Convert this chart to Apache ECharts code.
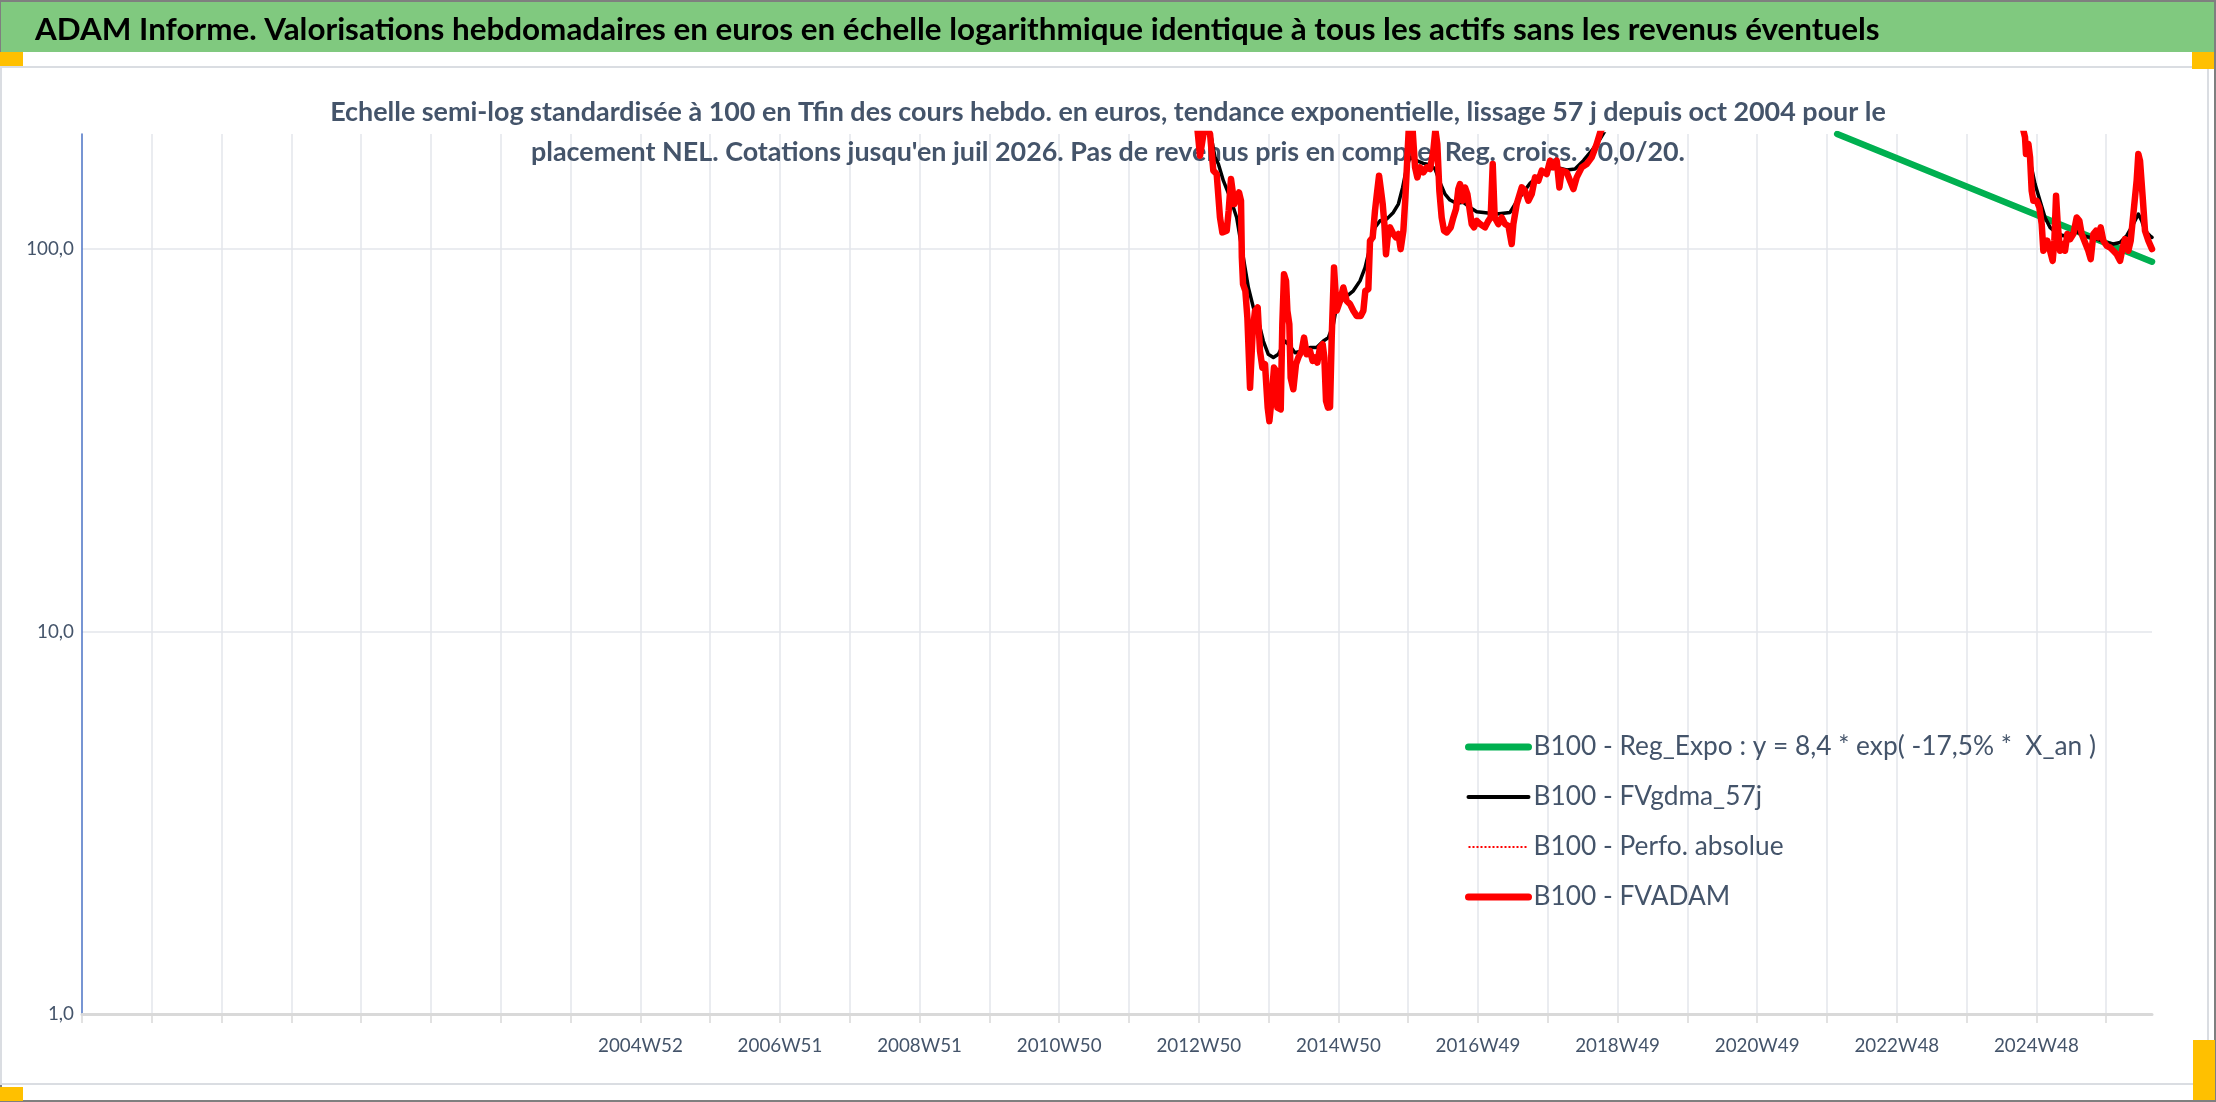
<!DOCTYPE html>
<html>
<head>
<meta charset="utf-8">
<title>ADAM Informe - NEL</title>
<script src="https://cdn.jsdelivr.net/npm/echarts@6/dist/echarts.min.js"></script>
<style>
    html, body { margin: 0; padding: 0; background: #ffffff; }
    #chart { width: 2216px; height: 1102px; }
</style>
</head>
<body>
<div id="chart"></div>
<script>
// axe des x en annees decimales, un trait tous les 52 semaines
var X_MIN = 1997.0;
var X_MAX = 2026.555;
var X_STEP = 364 / 365.25;

var xTickLabels = ['', '', '', '', '', '', '', '', '2004W52', '', '2006W51', '', '2008W51', '', '2010W50', '',
    '2012W50', '', '2014W50', '', '2016W49', '', '2018W49', '', '2020W49', '', '2022W48', '', '2024W48', ''];

var seriesNames = [
    'B100 - Reg_Expo : y = 8,4 * exp( -17,5% *  X_an )',
    'B100 - FVgdma_57j',
    'B100 - Perfo. absolue',
    'B100 - FVADAM'
];

// tendance exponentielle (droite en semi-log)
var regExpo = [[2022.06, 200], [2026.555, 92.7]];

// moyenne mobile 57 j
var fvGdma = [
    [2012.90, 260], [2013.106, 204], [2013.177, 173.8], [2013.225, 166.9], [2013.296, 151.0], [2013.391, 136.6],
    [2013.486, 121.0], [2013.558, 101.0], [2013.605, 89.5], [2013.653, 79.4], [2013.724, 70.4], [2013.796, 64.9],
    [2013.867, 57.5], [2013.938, 53.1], [2014.010, 52.1], [2014.081, 53.1], [2014.176, 57.5], [2014.248, 55.8],
    [2014.319, 53.6], [2014.414, 54.2], [2014.533, 55.3], [2014.628, 55.3], [2014.724, 57.5], [2014.795, 58.7],
    [2014.867, 63.6], [2014.914, 71.1], [2015.033, 74.7], [2015.152, 77.8], [2015.247, 82.6], [2015.319, 89.5],
    [2015.390, 101.0], [2015.461, 114.0], [2015.533, 118.6], [2015.628, 119.8], [2015.723, 124.7], [2015.795, 131.2],
    [2015.856, 145.0], [2015.914, 163.6], [2015.961, 173.8], [2016.056, 170.3], [2016.151, 167.6], [2016.247, 166.3],
    [2016.318, 162.0], [2016.389, 149.5], [2016.461, 139.3], [2016.532, 134.4], [2016.627, 131.7], [2016.723, 132.5],
    [2016.818, 128.5], [2016.913, 125.2], [2017.008, 124.7], [2017.199, 123.5], [2017.389, 124.7], [2017.485, 133.3],
    [2017.580, 140.7], [2017.675, 148.6], [2017.794, 155.6], [2017.913, 161.4], [2018.056, 163.6], [2018.198, 161.0],
    [2018.317, 162.0], [2018.436, 170.3], [2018.555, 180.9], [2018.674, 194.1], [2018.746, 204],
    [2019.5, 290], [2020.5, 380], [2021.4, 480], [2022.4, 400], [2023.4, 320], [2024.3, 250],
    [2024.718, 208], [2024.756, 192.1], [2024.814, 170.3], [2024.885, 148.0], [2024.956, 133.8], [2025.028, 121.0],
    [2025.099, 114.0], [2025.194, 109.9], [2025.289, 108.4], [2025.385, 109.5], [2025.480, 111.2], [2025.575, 108.4],
    [2025.670, 107.3], [2025.766, 106.2], [2025.908, 104.1], [2026.003, 103.1], [2026.099, 104.1], [2026.194, 108.4],
    [2026.289, 116.3], [2026.360, 123.5], [2026.408, 118.6], [2026.455, 111.7], [2026.527, 108.4], [2026.555, 107.3]
];

// perfo absolue : rien de visible
var perfoAbsolue = [];

// cours hebdo base 100
var fvAdam = [
    [2012.90, 230], [2012.963, 175.5], [2013.034, 212], [2013.106, 200], [2013.153, 160.4], [2013.201, 157.2],
    [2013.248, 121.0], [2013.282, 110.6], [2013.344, 111.7], [2013.372, 126.0], [2013.405, 152.5], [2013.453, 131.2],
    [2013.520, 140.7], [2013.548, 133.8], [2013.560, 95.1], [2013.577, 81.0], [2013.610, 77.8], [2013.639, 66.2],
    [2013.677, 43.4], [2013.715, 61.1], [2013.748, 69.0], [2013.786, 70.4], [2013.819, 54.2], [2013.853, 49.0],
    [2013.891, 50.0], [2013.929, 38.5], [2013.953, 35.5], [2013.986, 40.9], [2014.019, 49.0], [2014.048, 48.0],
    [2014.067, 38.5], [2014.115, 38.1], [2014.138, 63.6], [2014.162, 86.0], [2014.191, 82.6], [2014.210, 69.0],
    [2014.238, 63.6], [2014.257, 46.1], [2014.295, 43.0], [2014.333, 50.0], [2014.367, 52.1], [2014.414, 54.2],
    [2014.448, 58.7], [2014.486, 53.1], [2014.533, 54.2], [2014.571, 51.0], [2014.605, 52.1], [2014.638, 50.5],
    [2014.676, 55.3], [2014.714, 56.4], [2014.738, 52.1], [2014.762, 40.1], [2014.790, 38.5], [2014.819, 38.6],
    [2014.843, 58.7], [2014.876, 89.5], [2014.914, 69.0], [2014.962, 73.2], [2015.009, 79.4], [2015.057, 73.2],
    [2015.105, 71.8], [2015.152, 69.0], [2015.200, 66.9], [2015.257, 66.9], [2015.295, 69.0], [2015.323, 77.8],
    [2015.366, 78.6], [2015.390, 105.2], [2015.428, 107.3], [2015.461, 126.0], [2015.485, 137.9], [2015.519, 155.6],
    [2015.547, 142.2], [2015.571, 131.2], [2015.595, 116.3], [2015.618, 97.0], [2015.642, 107.3], [2015.676, 114.0],
    [2015.723, 109.5], [2015.761, 107.3], [2015.795, 109.5], [2015.828, 100.0], [2015.866, 111.7], [2015.895, 136.6],
    [2015.923, 173.8], [2015.942, 204], [2015.999, 204], [2016.033, 163.6], [2016.066, 154.0], [2016.104, 163.6],
    [2016.151, 158.8], [2016.199, 163.6], [2016.247, 162.0], [2016.294, 180.9], [2016.323, 205], [2016.351, 188.3],
    [2016.380, 142.2], [2016.413, 121.0], [2016.447, 111.7], [2016.485, 110.6], [2016.542, 114.0], [2016.580, 121.0],
    [2016.618, 127.3], [2016.651, 143.6], [2016.675, 148.0], [2016.713, 133.8], [2016.746, 145.0], [2016.780, 139.3],
    [2016.808, 128.5], [2016.842, 116.3], [2016.875, 114.0], [2016.913, 118.6], [2016.961, 116.3], [2017.032, 114.0],
    [2017.080, 118.6], [2017.113, 121.0], [2017.142, 166.9], [2017.170, 121.0], [2017.223, 116.3], [2017.270, 121.0],
    [2017.318, 116.3], [2017.366, 115.1], [2017.413, 103.1], [2017.437, 116.3], [2017.485, 131.2], [2017.556, 145.0],
    [2017.603, 142.2], [2017.651, 133.8], [2017.699, 139.3], [2017.746, 154.0], [2017.794, 151.0], [2017.841, 160.4],
    [2017.913, 157.2], [2017.960, 170.3], [2018.008, 163.6], [2018.056, 170.3], [2018.094, 145.0], [2018.127, 160.4],
    [2018.198, 158.8], [2018.246, 151.0], [2018.294, 143.6], [2018.341, 154.0], [2018.413, 163.6], [2018.484, 166.9],
    [2018.555, 173.8], [2018.627, 188.3], [2018.684, 204],
    [2019.3, 280], [2020.2, 360], [2021.0, 520], [2021.9, 430], [2022.8, 340], [2023.8, 290], [2024.5, 260],
    [2024.709, 208], [2024.742, 196.0], [2024.756, 177.3], [2024.790, 188.3], [2024.814, 173.8], [2024.837, 142.2],
    [2024.861, 133.8], [2024.909, 133.8], [2024.947, 128.5], [2024.980, 116.3], [2025.004, 99.0], [2025.028, 101.0],
    [2025.061, 105.2], [2025.099, 99.0], [2025.137, 93.2], [2025.161, 105.2], [2025.185, 137.9], [2025.209, 116.3],
    [2025.242, 99.0], [2025.289, 103.1], [2025.313, 99.0], [2025.347, 109.5], [2025.385, 106.2], [2025.432, 109.5],
    [2025.480, 121.0], [2025.518, 118.6], [2025.551, 109.5], [2025.599, 104.1], [2025.646, 99.0], [2025.680, 94.1],
    [2025.718, 109.5], [2025.756, 111.7], [2025.789, 107.3], [2025.822, 114.0], [2025.860, 105.2], [2025.908, 102.0],
    [2025.956, 101.0], [2026.003, 99.0], [2026.051, 97.0], [2026.099, 93.2], [2026.137, 101.0], [2026.170, 106.2],
    [2026.217, 99.0], [2026.251, 105.2], [2026.298, 128.5], [2026.336, 151.0], [2026.360, 177.3], [2026.384, 170.3],
    [2026.422, 136.6], [2026.455, 111.7], [2026.503, 105.2], [2026.555, 100.0]
];

var mainTitle = 'ADAM Informe. Valorisations hebdomadaires en euros en échelle logarithmique identique à tous les actifs sans les revenus éventuels';
var subTitle1 = 'Echelle semi-log standardisée à 100 en Tfin des cours hebdo. en euros, tendance exponentielle, lissage 57 j depuis oct 2004 pour le';
var subTitle2 = "placement NEL. Cotations jusqu'en juil 2026. Pas de revenus pris en compte. Reg. croiss. : 0,0/20.";
</script>
<script>
var FONT = "Lato, 'Noto Sans', sans-serif";

// taille de police pour qu'un texte fasse la largeur voulue
function fitSize(text, weight, target) {
    var ctx = document.createElement('canvas').getContext('2d');
    ctx.font = weight + ' 100px ' + FONT;
    return Math.round(100 * target / ctx.measureText(text).width * 10) / 10;
}

var titleSize = fitSize(mainTitle, 'bold', 1843);
var subSize = fitSize(subTitle1, 'bold', 1556);
var legendSize = fitSize(seriesNames[0], 'normal', 563);
var axisSize = fitSize('2004W52', 'normal', 85);

var myChart = echarts.init(document.getElementById('chart'));

var option = {
    backgroundColor: '#ffffff',
    animation: false,
    graphic: [
        // bordure ecran
        { type: 'rect', z: -10, shape: { x: 1, y: 1, width: 2214, height: 1100 }, style: { fill: '#ffffff', stroke: '#7f7f7f', lineWidth: 2 } },
        // bandeau vert
        { type: 'rect', z: -9, shape: { x: 1, y: 2, width: 2213, height: 50 }, style: { fill: '#80c97f' } },
        // cadre du graphique
        { type: 'rect', z: -9, shape: { x: 1, y: 67, width: 2207, height: 1017 }, style: { fill: '#ffffff', stroke: '#dadde2', lineWidth: 2 } },
        // poignees jaunes
        { type: 'rect', z: -8, shape: { x: 0, y: 52, width: 23, height: 14 }, style: { fill: '#ffc000' } },
        { type: 'rect', z: -8, shape: { x: 2192, y: 52, width: 22, height: 17 }, style: { fill: '#ffc000' } },
        { type: 'rect', z: -8, shape: { x: 2193, y: 1040, width: 22, height: 60 }, style: { fill: '#ffc000' } },
        { type: 'rect', z: -8, shape: { x: 0, y: 1087, width: 23, height: 14 }, style: { fill: '#ffc000' } }
    ],
    title: [{
        text: mainTitle,
        left: 35,
        top: 11,
        padding: 0,
        textStyle: { color: '#000000', fontSize: titleSize, fontWeight: 'bold', fontFamily: FONT, lineHeight: 38 }
    }, {
        text: subTitle1 + '\n' + subTitle2,
        left: 'center',
        top: 92,
        padding: 0,
        z: 1,
        textStyle: { color: '#44546a', fontSize: subSize, fontWeight: 'bold', fontFamily: FONT, lineHeight: 40 }
    }],
    legend: {
        orient: 'vertical',
        left: 1465,
        top: 732,
        padding: 0,
        itemWidth: 60,
        itemHeight: 14,
        itemGap: 20,
        selectedMode: false,
        itemStyle: { opacity: 0, borderWidth: 0 },
        textStyle: { color: '#44546a', fontSize: legendSize, fontFamily: FONT, lineHeight: 30 },
        data: [
            { name: seriesNames[0], lineStyle: { width: 7, cap: 'round' } },
            { name: seriesNames[1], lineStyle: { width: 4, cap: 'round' } },
            { name: seriesNames[2], lineStyle: { width: 2 } },
            { name: seriesNames[3], lineStyle: { width: 7, cap: 'round' } }
        ]
    },
    grid: {
        left: 82,
        right: 64,
        top: 134,
        bottom: 88,
        containLabel: false
    },
    xAxis: {
        type: 'value',
        min: X_MIN,
        max: X_MAX,
        interval: X_STEP,
        axisLine: { show: true, onZero: false, lineStyle: { color: '#d9d9d9', width: 3 } },
        axisTick: { show: true, length: 9, lineStyle: { color: '#d9d9d9', width: 1.5 } },
        splitLine: { show: true, showMinLine: false, showMaxLine: false, lineStyle: { color: '#e3e6eb', width: 1.5 } },
        axisLabel: {
            showMaxLabel: false,
            margin: 22,
            color: '#44546a',
            fontSize: axisSize,
            fontFamily: FONT,
            formatter: function (v) {
                var i = Math.round((v - X_MIN) / X_STEP);
                return xTickLabels[i] || '';
            }
        }
    },
    yAxis: {
        type: 'log',
        logBase: 10,
        min: 1,
        max: 200,
        axisLine: { show: true, lineStyle: { color: '#4a72c4', width: 1.5 } },
        axisTick: { show: false },
        splitLine: { show: true, showMinLine: false, showMaxLine: false, lineStyle: { color: '#e3e6eb', width: 1.5 } },
        axisLabel: {
            showMaxLabel: false,
            margin: 8,
            color: '#44546a',
            fontSize: axisSize,
            fontFamily: FONT,
            formatter: function (v) {
                return Number(v).toFixed(1).replace('.', ',');
            }
        }
    },
    series: [{
        name: seriesNames[0],
        type: 'line',
        data: regExpo,
        symbol: 'none',
        clip: true,
        lineStyle: { color: '#00b050', width: 6.5, cap: 'round' },
        itemStyle: { color: '#00b050' }
    }, {
        name: seriesNames[1],
        type: 'line',
        data: fvGdma,
        symbol: 'none',
        clip: true,
        lineStyle: { color: '#000000', width: 3.5, cap: 'round', join: 'round' },
        itemStyle: { color: '#000000' }
    }, {
        name: seriesNames[2],
        type: 'line',
        data: perfoAbsolue,
        symbol: 'none',
        lineStyle: { color: '#ff0000', width: 2, type: 'dotted' },
        itemStyle: { color: '#ff0000' }
    }, {
        name: seriesNames[3],
        type: 'line',
        data: fvAdam,
        symbol: 'none',
        clip: true,
        lineStyle: { color: '#ff0000', width: 6.5, cap: 'round', join: 'round' },
        itemStyle: { color: '#ff0000' }
    }]
};

myChart.setOption(option);
window.addEventListener("resize", function () {
    myChart.resize();
});
</script>
</body>
</html>
